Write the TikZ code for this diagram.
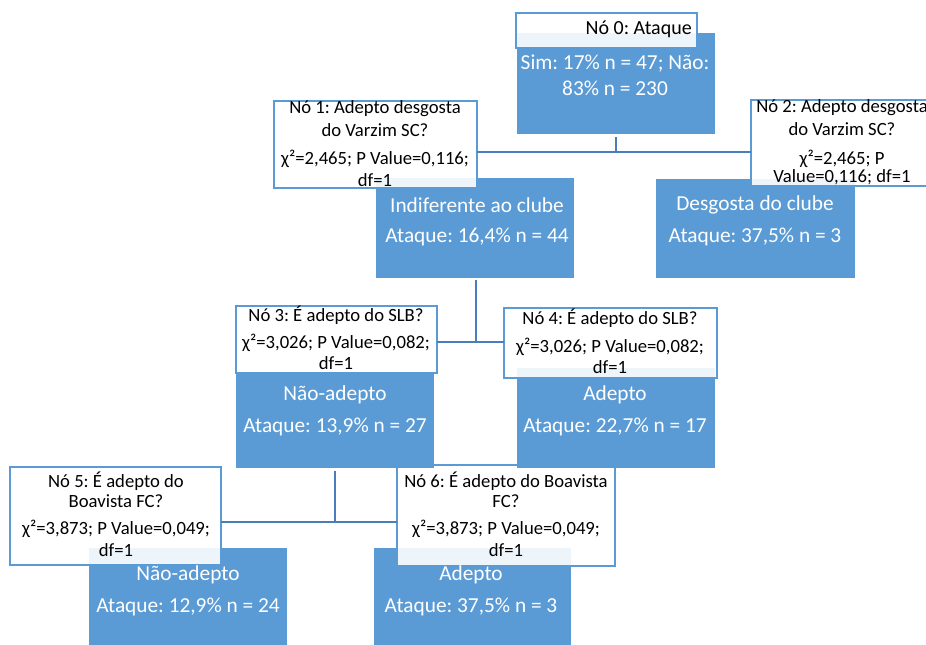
\documentclass[tikz,border=0pt]{standalone}
\usepackage{fontspec}
\setmainfont{Carlito}
\frenchspacing
\definecolor{boxblue}{HTML}{5B9BD5}
\definecolor{linkblue}{HTML}{4A7EBB}
\newcommand\mkbox[6]{\node[#2, anchor=north west, minimum width={(#5-#3)*0.75pt}, minimum height={(#6-#4)*0.75pt}] (#1) at (#3,#4) {};}
\tikzset{
  leaf/.style={fill=boxblue, draw=none, inner sep=0pt, outer sep=0pt},
  infobox/.style={fill=white, fill opacity=0.9, draw=boxblue, line width=1.9pt, inner sep=0pt, outer sep=0pt},
  link/.style={draw=linkblue, line width=1.9pt},
  ltext/.style={font=\fontsize{14}{16}\selectfont, text=black, inner sep=0pt},
  htext/.style={font=\fontsize{15}{17}\selectfont, text=black, inner sep=0pt},
  btext/.style={font=\fontsize{16}{18}\selectfont, text=white, inner sep=0pt}
}
\begin{document}
\begin{tikzpicture}[x=0.75pt,y=-0.75pt]
\useasboundingbox (0,0) rectangle (926,644);
\clip (0,0) rectangle (926,644);
\fill[white] (0,0) rectangle (926,644);
% junction coordinates
\coordinate (j0) at (616,152);
\coordinate (j1) at (476,342);
\coordinate (j2) at (335,522);
\coordinate (v0) at (616,137);
\coordinate (v1) at (476,280);
\coordinate (v2) at (335,471);
% level 3 boxes
\mkbox{n5b}{leaf}{89}{548}{287}{670}
\mkbox{n6b}{leaf}{374}{548}{571}{670}
\mkbox{n5l}{infobox}{10}{467}{221}{565}
\mkbox{n6l}{infobox}{397}{465}{615}{566}
% vertical connectors
\draw[link] (v0) -- (j0);
\draw[link] (v1) -- (j1);
\draw[link] (v2) -- (j2);
% upper boxes
\mkbox{n0b}{leaf}{517}{33}{715}{134}
\mkbox{n1b}{leaf}{376}{178}{574}{278}
\mkbox{n2b}{leaf}{656}{179}{855}{278}
\mkbox{n3b}{leaf}{236}{373}{434}{468}
\mkbox{n4b}{leaf}{517}{368}{715}{468}
\mkbox{n0l}{infobox}{516}{13}{697}{48}
\mkbox{n1l}{infobox}{274}{101}{477}{188}
\mkbox{n2l}{infobox}{751}{100}{933}{186}
\mkbox{n3l}{infobox}{236}{306}{437}{373}
\mkbox{n4l}{infobox}{504}{308}{717}{378}
% horizontal connectors
\draw[link] (n1l.east |- j0) -- (n2l.west |- j0);
\draw[link] (n3l.east |- j1) -- (n4l.west |- j1);
\draw[link] (n5l.east |- j2) -- (n6l.west |- j2);
% texts node 0
\node[htext, anchor=east] (t0h) at (692,29) {Nó 0: Ataque};
\node[btext] (t0a) at (615,64) {Sim: 17\% n = 47; Não:};
\node[btext] (t0b) at (615,88) {83\% n = 230};
% node 1
\node[ltext] (t1a) at (375,109) {Nó 1: Adepto desgosta};
\node[ltext] (t1b) at (375,130) {do Varzim SC?};
\node[ltext] (t1c) at (375,159) {χ²=2,465; P Value=0,116;};
\node[ltext] (t1d) at (375,180) {df=1};
\node[btext] (t1e) at (477,205) {Indiferente ao clube};
\node[btext] (t1f) at (477,237) {Ataque: 16,4\% n = 44};
% node 2
\node[ltext] (t2a) at (842,108) {Nó 2: Adepto desgosta};
\node[ltext] (t2b) at (842,129) {do Varzim SC?};
\node[ltext] (t2c) at (842,159) {χ²=2,465; P};
\node[ltext] (t2d) at (842,177) {Value=0,116; df=1};
\node[btext] (t2e) at (755,205) {Desgosta do clube};
\node[btext] (t2f) at (755,237) {Ataque: 37,5\% n = 3};
% node 3
\node[ltext] (t3a) at (336,315) {Nó 3: É adepto do SLB?};
\node[ltext] (t3b) at (336,343) {χ²=3,026; P Value=0,082;};
\node[ltext] (t3c) at (336,363) {df=1};
\node[btext] (t3d) at (335,395) {Não-adepto};
\node[btext] (t3e) at (335,427) {Ataque: 13,9\% n = 27};
% node 4
\node[ltext] (t4a) at (610,318) {Nó 4: É adepto do SLB?};
\node[ltext] (t4b) at (610,347) {χ²=3,026; P Value=0,082;};
\node[ltext] (t4c) at (610,367) {df=1};
\node[btext] (t4d) at (615,395) {Adepto};
\node[btext] (t4e) at (615,427) {Ataque: 22,7\% n = 17};
% node 5
\node[ltext] (t5a) at (116,481) {Nó 5: É adepto do};
\node[ltext] (t5b) at (116,501) {Boavista FC?};
\node[ltext] (t5c) at (116,529) {χ²=3,873; P Value=0,049;};
\node[ltext] (t5d) at (116,550) {df=1};
\node[btext] (t5e) at (188,575) {Não-adepto};
\node[btext] (t5f) at (188,607) {Ataque: 12,9\% n = 24};
% node 6
\node[ltext] (t6a) at (506,481) {Nó 6: É adepto do Boavista};
\node[ltext] (t6b) at (506,501) {FC?};
\node[ltext] (t6c) at (506,529) {χ²=3,873; P Value=0,049;};
\node[ltext] (t6d) at (506,550) {df=1};
\node[btext] (t6e) at (471,575) {Adepto};
\node[btext] (t6f) at (471,607) {Ataque: 37,5\% n = 3};
\end{tikzpicture}
\end{document}
